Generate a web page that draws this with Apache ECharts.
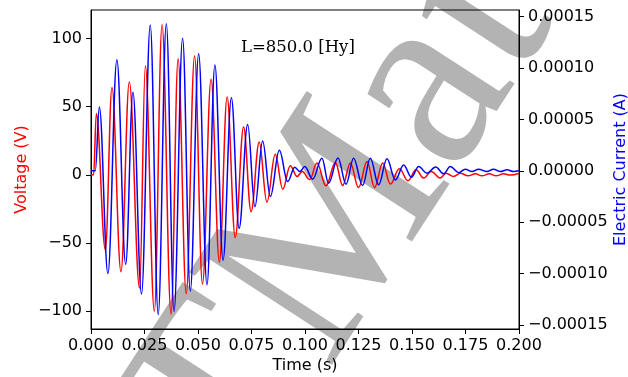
<!DOCTYPE html>
<html>
<head>
<meta charset="utf-8">
<script src="https://cdn.jsdelivr.net/npm/echarts@6/dist/echarts.min.js"></script>
<style>
  html, body { margin: 0; padding: 0; background: #ffffff; }
  #chart { width: 628px; height: 377px; }
</style>
</head>
<body>
<div id="chart"></div>
<script>
// Extrema of the voltage trace (time in s, voltage in V)
const voltTime = [0, 0.0012, 0.0025, 0.0067, 0.0098, 0.0140, 0.0179, 0.0227, 0.0254, 0.0296, 0.0332,
  0.0374, 0.0407, 0.0445, 0.0484, 0.0521, 0.0561, 0.0600, 0.0636, 0.0674, 0.0713, 0.0748, 0.0786,
  0.0822, 0.0861, 0.0896, 0.0931, 0.0963, 0.0987, 0.1022, 0.1056, 0.1098, 0.1142, 0.1176, 0.1212,
  0.1250, 0.1290, 0.1325, 0.1363, 0.1399, 0.1441, 0.1481, 0.1519, 0.1554, 0.1590, 0.1632, 0.1659,
  0.1694, 0.1726, 0.1762, 0.1796, 0.1827, 0.1861, 0.1893, 0.1928, 0.1959, 0.2000];
const voltValue = [0, 0, 45, -55, 64, -71, 68, -83, 80, -100, 110,
  -102, 85, -87, 87, -80, 70, -64, 57, -46, 35, -27, 24,
  -20, 15, -10.5, 6.6, -1.2, 2.4, -3.5, 8.6, -8.1, 9.0, -7.8, 8.6,
  -9.3, 9.7, -9.3, 8.6, -6.8, 4.4, -4.4, 3.7, -2.4, 2.4, -2.4, 1.2,
  -1.2, 1.2, -0.7, 0.7, -0.7, 0.7, -0.7, 0.7, -0.2, 1.2];

// Extrema of the current trace (time in s, current in A)
const currTime = [0, 0.0020, 0.0039, 0.0079, 0.0121, 0.0162, 0.0196, 0.0236, 0.0277, 0.0314, 0.0352,
  0.0388, 0.0428, 0.0464, 0.0503, 0.0542, 0.0579, 0.0617, 0.0656, 0.0692, 0.0732, 0.0766, 0.0802,
  0.0838, 0.0880, 0.0919, 0.0952, 0.0976, 0.0999, 0.1036, 0.1079, 0.1110, 0.1154, 0.1192, 0.1227,
  0.1269, 0.1305, 0.1344, 0.1383, 0.1422, 0.1461, 0.1497, 0.1531, 0.1570, 0.1611, 0.1648, 0.1679,
  0.1718, 0.1749, 0.1780, 0.1811, 0.1850, 0.1881, 0.1913, 0.1944, 0.1975, 0.2000];
const currValue = [0, 0, 6.2e-5, -1.0e-4, 1.08e-4, -9.1e-5, 7.65e-5, -1.2e-4, 1.42e-4, -1.40e-4, 1.43e-4,
  -1.37e-4, 1.29e-4, -1.17e-4, 1.14e-4, -1.11e-4, 1.03e-4, -8.7e-5, 7.1e-5, -5.6e-5, 4.5e-5, -3.5e-5, 2.9e-5,
  -2.5e-5, 2.0e-5, -1.05e-5, 3.5e-6, -0.8e-6, 4.1e-6, -8.2e-6, 1.23e-5, -1.21e-5, 1.25e-5, -1.3e-5, 1.23e-5,
  -1.44e-5, 1.23e-5, -1.37e-5, 1.16e-5, -8.9e-6, 5.7e-6, -6.2e-6, 4.1e-6, -2.3e-6, 3.6e-6, -3.0e-6, 4.1e-6,
  -1.8e-6, 1.6e-6, -0.8e-6, 1.6e-6, -0.8e-6, 1.6e-6, -0.8e-6, 0.9e-6, -0.8e-6, 0.2e-6];

// Tick positions
const timeTicks = [0, 0.025, 0.05, 0.075, 0.1, 0.125, 0.15, 0.175, 0.2];
const voltTicks = [-100, -50, 0, 50, 100];
const currTicks = [-0.00015, -0.0001, -0.00005, 0, 0.00005, 0.0001, 0.00015];

const annotation = 'L=850.0 [Hy]';
const watermark = 'TMat';

const MINUS = '\u2212';
const fmt = (v, d) => (v < 0 ? MINUS : '') + Math.abs(v).toFixed(d);
const sans = 'DejaVu Sans';
const fs = 16;

const chart = echarts.init(document.getElementById('chart'), null, { renderer: 'canvas' });

const axisCommon = {
  axisLine: { show: true, onZero: false, lineStyle: { color: '#000', width: 1 } },
  axisTick: { show: true, inside: false, length: 5, lineStyle: { color: '#000', width: 1 } },
  splitLine: { show: false },
  nameMoveOverlap: false,
  nameTextStyle: { fontFamily: sans, fontSize: fs },
  axisLabel: { fontFamily: sans, fontSize: fs, color: '#000' }
};

chart.setOption({
  animation: false,
  backgroundColor: '#ffffff',
  grid: {
    left: 91, right: 109, top: 10, bottom: 48,
    outerBoundsMode: 'none', containLabel: false,
    show: true, borderColor: '#000', borderWidth: 1, backgroundColor: 'transparent'
  },
  graphic: [
    {
      // large rotated watermark behind the traces
      type: 'text', z: -10,
      x: 293, y: 538,
      rotation: 57 * Math.PI / 180,
      style: {
        text: watermark,
        fontFamily: 'Liberation Serif',
        fontSize: 260,
        fill: '#b3b3b3',
        textAlign: 'left',
        textVerticalAlign: 'bottom'
      }
    },
    {
      type: 'text', z: 100,
      x: 241, y: 47.5,
      style: {
        text: annotation,
        fontFamily: 'DejaVu Serif',
        fontSize: 16.5,
        fill: '#000',
        textAlign: 'left',
        textVerticalAlign: 'middle'
      }
    }
  ],
  xAxis: {
    ...axisCommon,
    type: 'value',
    min: 0, max: 0.2, interval: 0.025,
    name: 'Time (s)', nameLocation: 'middle', nameGap: 29,
    nameTextStyle: { fontFamily: sans, fontSize: fs, color: '#000' },
    axisLabel: { ...axisCommon.axisLabel, margin: 9, formatter: v => fmt(v, 3), showMinLabel: true, showMaxLabel: true }
  },
  yAxis: [
    {
      ...axisCommon,
      type: 'value', position: 'left',
      min: -113, max: 120.8,
      name: 'Voltage (V)', nameLocation: 'middle', nameGap: 61, nameRotate: 90,
      nameTextStyle: { fontFamily: sans, fontSize: fs, color: '#ff0000' },
      axisTick: { ...axisCommon.axisTick, customValues: voltTicks },
      axisLabel: { ...axisCommon.axisLabel, margin: 9, customValues: voltTicks, formatter: v => fmt(v, 0) }
    },
    {
      ...axisCommon,
      type: 'value', position: 'right',
      min: -0.000154, max: 0.0001565,
      name: 'Electric Current (A)', nameLocation: 'middle', nameGap: 94, nameRotate: 90,
      nameTextStyle: { fontFamily: sans, fontSize: fs, color: '#0000ff' },
      axisTick: { ...axisCommon.axisTick, customValues: currTicks },
      axisLabel: { ...axisCommon.axisLabel, margin: 9, customValues: currTicks, formatter: v => fmt(v, 5) }
    }
  ],
  series: [
    {
      name: 'Voltage', type: 'line', xAxisIndex: 0, yAxisIndex: 0,
      data: voltTime.map((t, i) => [t, voltValue[i]]),
      showSymbol: false, smooth: 0.38, smoothMonotone: 'x',
      lineStyle: { color: '#ff0000', width: 1.5 }, itemStyle: { color: '#ff0000' },
      z: 3
    },
    {
      name: 'Current', type: 'line', xAxisIndex: 0, yAxisIndex: 1,
      data: currTime.map((t, i) => [t, currValue[i]]),
      showSymbol: false, smooth: 0.38, smoothMonotone: 'x',
      lineStyle: { color: '#0000ff', width: 1.5 }, itemStyle: { color: '#0000ff' },
      z: 4
    }
  ]
});
</script>
</body>
</html>
